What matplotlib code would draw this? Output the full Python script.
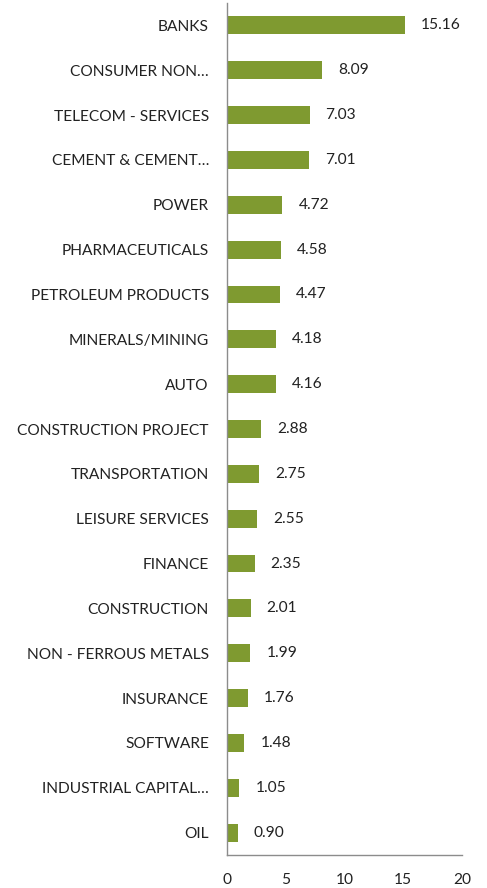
import matplotlib
matplotlib.use("Agg")
import matplotlib.pyplot as plt

categories = ["BANKS", "CONSUMER NON…", "TELECOM - SERVICES", "CEMENT & CEMENT…",
              "POWER", "PHARMACEUTICALS", "PETROLEUM PRODUCTS", "MINERALS/MINING",
              "AUTO", "CONSTRUCTION PROJECT", "TRANSPORTATION", "LEISURE SERVICES",
              "FINANCE", "CONSTRUCTION", "NON - FERROUS METALS", "INSURANCE",
              "SOFTWARE", "INDUSTRIAL CAPITAL…", "OIL"]
values = [15.16, 8.09, 7.03, 7.01, 4.72, 4.58, 4.47, 4.18, 4.16, 2.88, 2.75,
          2.55, 2.35, 2.01, 1.99, 1.76, 1.48, 1.05, 0.90]
xticks = [0, 5, 10, 15, 20]

plt.rcParams['font.family'] = ['Lato', 'DejaVu Sans']
W, H = 487, 888
fig = plt.figure(figsize=(W/100, H/100), dpi=100)
ax = fig.add_axes([227/W, (H-855)/H, 235/W, (855-3)/H])

n = len(categories)
ypos = list(range(n))
bar_color = '#7F9A30'
fs = 11.2
ax.barh(ypos, values, height=0.40, color=bar_color)
ax.set_ylim(n - 0.5, -0.5)
ax.set_xlim(0, 20)
ax.set_yticks(ypos)
ax.set_yticklabels(categories, fontsize=fs, color='#222222')
ax.set_xticks(xticks)
ax.set_xticklabels([str(t) for t in xticks], fontsize=fs, color='#222222')
ax.tick_params(axis='both', length=0)
ax.tick_params(axis='y', pad=13)
ax.tick_params(axis='x', pad=13)
for s in ['top', 'right']:
    ax.spines[s].set_visible(False)
for s in ['left', 'bottom']:
    ax.spines[s].set_color('#8c8c8c')
    ax.spines[s].set_linewidth(1.0)

for y, v in zip(ypos, values):
    ax.annotate(f"{v:.2f}", (v, y), xytext=(11.5, 0), textcoords='offset points',
                va='center', ha='left', fontsize=fs, color='#222222')

fig.savefig("out.png", dpi=100)
